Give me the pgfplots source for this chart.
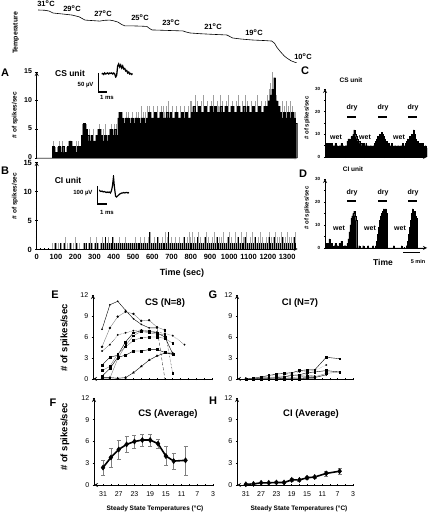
\documentclass[border=0pt]{standalone}
\usepackage{pgfplots}
\pgfplotsset{compat=1.18}
\usepackage{fontspec}
\setmainfont{Liberation Sans}
\newcommand{\fs}[1]{\fontsize{#1}{#1}\selectfont}
\pgfplotsset{
  every axis/.append style={scale only axis, anchor=south west, tick align=outside,
    axis line style={-, line width=0.8pt}, tick style={black, line width=0.6pt},
    major tick length=2.5pt, minor tick length=1.5pt,
    /pgf/number format/assume math mode=true, /pgf/number format/1000 sep={}},
  boldticks/.style={ticklabel style={font=\bfseries\fs{#1}}},
  regticks/.style={ticklabel style={font=\fs{#1}}},
}
\begin{document}
\begin{tikzpicture}
\useasboundingbox (0pt,0pt) rectangle (428pt,514pt);

% ---------------- Temperature trace
\begin{axis}[at={(36.7pt,451pt)}, width=261pt, height=53pt, xmin=0, xmax=1355, ymin=10, ymax=31, axis lines=none]
\addplot[black, line width=0.6pt] coordinates {(7,31.0)(40,30.9)(64,30.6)(85,29.8)(110,29.6)(136,29.4)(160,29.2)(183,29.0)(220,28.3)(251,27.0)(290,26.8)(328,26.6)(350,26.9)(380,27.0)(400,26.7)(422,26.2)(440,25.3)(458,24.7)(500,24.7)(540,24.6)(572,24.5)(585,23.7)(598,23.1)(680,22.9)(759,22.7)(775,22.3)(795,21.9)(850,21.6)(900,21.4)(987,21.1)(1000,20.6)(1018,19.9)(1060,19.5)(1122,19.1)(1180,18.9)(1220,18.7)(1235,17.8)(1246,16.3)(1265,14.5)(1285,12.8)(1298,12.0)(1320,10.9)(1350,10.0)};
\end{axis}

% ---------------- A
\begin{axis}[at={(36.7pt,356pt)}, width=261pt, height=86pt, xmin=0, xmax=1355, ymin=0, ymax=15,
  axis x line=bottom, axis y line=left, x axis line style={gray, line width=0.4pt},
  xtick=\empty, ytick={0,5,10,15}, minor ytick={1,2,3,4,6,7,8,9,11,12,13,14}, boldticks=7,
  yticklabel style={yshift=1pt}]
\addplot[ycomb, gray!75, line width=0.6pt] coordinates {(85,3)(95,2)(105,2)(115,3)(125,2)(135,3)(145,2)(155,2)(165,3)(175,3)(185,3)(195,2)(205,3)(215,3)(225,2)(235,6)(245,6)(255,6)(265,5)(275,5)(285,4)(295,5)(305,4)(315,5)(325,6)(335,5)(345,5)(355,6)(365,4)(375,5)(385,6)(395,5)(405,6)(415,6)(425,8)(435,8)(445,8)(455,7)(465,8)(475,8)(485,7)(495,8)(505,7)(515,8)(525,8)(535,7)(545,9)(555,8)(565,8)(575,9)(585,9)(595,8)(605,9)(615,8)(625,9)(635,8)(645,9)(655,9)(665,8)(675,9)(685,10)(695,8)(705,9)(715,8)(725,9)(735,8)(745,9)(755,8)(765,9)(775,8)(785,9)(795,10)(805,10)(815,9)(825,11)(835,10)(845,9)(855,10)(865,11)(875,9)(885,10)(895,9)(905,10)(915,11)(925,9)(935,10)(945,9)(955,11)(965,10)(975,9)(985,10)(995,11)(1005,9)(1015,10)(1025,9)(1035,10)(1045,11)(1055,9)(1065,10)(1075,9)(1085,11)(1095,10)(1105,9)(1115,10)(1125,9)(1135,10)(1145,11)(1155,9)(1165,10)(1175,9)(1185,10)(1195,11)(1205,12)(1215,13)(1225,15)(1235,13)(1245,11)(1255,10)(1265,9)(1275,10)(1285,9)(1295,10)(1305,9)(1315,10)(1325,9)(1335,8)(1345,8)};
\addplot[const plot, fill=black, draw=black, line width=0.2pt] coordinates {(0,0)(10,0)(20,0)(30,0)(40,0)(50,0)(60,0)(70,0)(80,2)(90,1)(100,1)(110,2)(120,1)(130,2)(140,1)(150,1)(160,2)(170,3)(180,2)(190,2)(200,1)(210,2)(220,2)(230,4)(240,6)(250,5)(260,4)(270,3)(280,4)(290,3)(300,3)(310,4)(320,5)(330,4)(340,3)(350,4)(360,3)(370,4)(380,5)(390,4)(400,5)(410,4)(420,7)(430,8)(440,7)(450,6)(460,7)(470,7)(480,6)(490,7)(500,6)(510,7)(520,7)(530,6)(540,7)(550,7)(560,6)(570,7)(580,8)(590,7)(600,7)(610,8)(620,7)(630,7)(640,8)(650,7)(660,7)(670,8)(680,7)(690,8)(700,7)(710,7)(720,8)(730,7)(740,7)(750,8)(760,7)(770,8)(780,7)(790,7)(800,8)(810,9)(820,8)(830,8)(840,9)(850,8)(860,8)(870,9)(880,8)(890,8)(900,9)(910,8)(920,9)(930,8)(940,8)(950,9)(960,8)(970,8)(980,9)(990,8)(1000,8)(1010,9)(1020,8)(1030,8)(1040,9)(1050,8)(1060,8)(1070,9)(1080,8)(1090,9)(1100,8)(1110,8)(1120,9)(1130,8)(1140,8)(1150,9)(1160,8)(1170,8)(1180,9)(1190,9)(1200,10)(1210,11)(1220,12)(1230,14)(1240,10)(1250,9)(1260,8)(1270,7)(1280,8)(1290,7)(1300,8)(1310,7)(1320,8)(1330,7)(1340,6)(1350,0)} \closedcycle;
\end{axis}

% A inset waveform
\begin{axis}[at={(101.7pt,436pt)}, width=31pt, height=16pt, xmin=0, xmax=31, ymin=0, ymax=16, axis lines=none]
\addplot[black, line width=1.3pt] coordinates {(0,4)(1,4.5)(2,3.5)(3,5)(4,4)(5,4.5)(6,5)(7,4)(8,5)(9,4.5)(10,5)(11,4)(12,5)(13,4)(14,1)(15,3)(16,12)(17,14)(18,11)(19,13)(20,10)(21,12)(22,9)(23,9.5)(24,7)(25,7.5)(26,5)(27,6)(28,4)(29,4.5)(30,3.5)(31,4.5)};
\end{axis}
\draw[line width=1.2pt] (98.5pt,441pt) -- (98.5pt,422pt) -- (107pt,422pt);
\node[anchor=east, font=\bfseries\fs{6}] at (97pt,429pt) {50 µV};
\node[font=\bfseries\fs{6}] at (107pt,417pt) {1 ms};

% ---------------- B
\begin{axis}[at={(36.7pt,265pt)}, width=261pt, height=87pt, xmin=0, xmax=1355, ymin=0, ymax=15,
  axis x line=bottom, axis y line=left,
  xtick={0,100,...,1300}, minor x tick num=4, ytick={0,5,10,15}, minor ytick={1,2,3,4,6,7,8,9,11,12,13,14}, boldticks=7.5,
  yticklabel style={yshift=-1pt}]
\addplot[ycomb, gray!70, line width=0.6pt] coordinates {(80,1)(90,1)(100,1)(110,1)(120,1)(130,1)(140,1)(150,2)(160,1)(170,1)(180,1)(190,1)(200,2)(210,1)(220,1)(230,0)(240,1)(250,1)(260,1)(270,1)(280,2)(290,1)(300,1)(310,2)(320,1)(330,1)(340,2)(350,1)(360,1)(370,2)(380,1)(390,1)(400,2)(410,1)(420,1)(430,2)(440,1)(450,1)(460,2)(470,1)(480,1)(490,1)(500,1)(510,2)(520,1)(530,1)(540,2)(550,1)(560,2)(570,1)(580,2)(590,3)(600,1)(610,2)(620,1)(630,2)(640,1)(650,2)(660,1)(670,3)(680,2)(690,1)(700,2)(710,1)(720,2)(730,1)(740,2)(750,1)(760,2)(770,1)(780,2)(790,3)(800,2)(810,3)(820,2)(830,1)(840,3)(850,2)(860,1)(870,2)(880,3)(890,2)(900,1)(910,2)(920,3)(930,2)(940,1)(950,2)(960,2)(970,3)(980,1)(990,2)(1000,3)(1010,2)(1020,1)(1030,3)(1040,2)(1050,1)(1060,3)(1070,2)(1080,2)(1090,3)(1100,1)(1110,2)(1120,3)(1130,2)(1140,1)(1150,2)(1160,3)(1170,2)(1180,1)(1190,2)(1200,2)(1210,3)(1220,2)(1230,2)(1240,3)(1250,2)(1260,2)(1270,3)(1280,2)(1290,2)(1300,3)(1310,2)(1320,2)(1330,2)(1340,3)};
\addplot[ycomb, black, line width=0.6pt] coordinates {(85,0)(95,1)(105,0)(115,0)(125,1)(135,0)(145,1)(155,0)(165,0)(175,1)(185,0)(195,0)(205,1)(215,0)(225,0)(235,0)(245,1)(255,1)(265,0)(275,1)(285,1)(295,0)(305,1)(315,1)(325,0)(335,1)(345,1)(355,2)(365,1)(375,1)(385,1)(395,2)(405,1)(415,1)(425,1)(435,1)(445,1)(455,1)(465,1)(475,1)(485,1)(495,1)(505,1)(515,1)(525,1)(535,1)(545,1)(555,1)(565,1)(575,1)(585,3)(595,1)(605,1)(615,1)(625,2)(635,1)(645,1)(655,1)(665,1)(675,1)(685,3)(695,1)(705,1)(715,1)(725,1)(735,1)(745,1)(755,1)(765,2)(775,1)(785,1)(795,1)(805,1)(815,1)(825,1)(835,2)(845,1)(855,1)(865,1)(875,2)(885,1)(895,1)(905,1)(915,1)(925,1)(935,2)(945,1)(955,1)(965,1)(975,1)(985,1)(995,2)(1005,1)(1015,1)(1025,1)(1035,1)(1045,2)(1055,1)(1065,1)(1075,1)(1085,2)(1095,1)(1105,1)(1115,1)(1125,1)(1135,2)(1145,1)(1155,1)(1165,1)(1175,1)(1185,1)(1195,1)(1205,2)(1215,1)(1225,1)(1235,2)(1245,1)(1255,1)(1265,1)(1275,2)(1285,1)(1295,1)(1305,1)(1315,1)(1325,1)(1335,2)(1345,1)};
\end{axis}

% B inset waveform
\begin{axis}[at={(99pt,316pt)}, width=30pt, height=22pt, xmin=0, xmax=29, ymin=0, ymax=22, axis lines=none]
\addplot[black, line width=1.2pt] coordinates {(0,8)(1,7)(2,6.5)(3,7)(4,6)(5,6.5)(6,6)(7,5.5)(8,6)(9,5.5)(10,6)(11,5)(12,7)(13,12)(14,21)(15,10)(16,2)(17,1)(18,2)(19,3)(20,4)(21,4.5)(22,5)(23,5)(24,5.5)(25,5)(26,5.5)(27,5.5)(28,5)(29,5.5)};
\end{axis}
\draw[line width=1.2pt] (97.5pt,328pt) -- (97.5pt,310pt) -- (107pt,310pt);
\node[anchor=east, font=\bfseries\fs{6}] at (96pt,321pt) {100 µV};
\node[font=\bfseries\fs{6}] at (107pt,302pt) {1 ms};

% ---------------- C
\begin{axis}[at={(325pt,357pt)}, width=102pt, height=68pt, xmin=0, xmax=103, ymin=0, ymax=30,
  axis x line=bottom, axis y line=left, ytick={0,10,20,30}, minor ytick={5,15,25},
  xtick={0,20,40,60,80,100}, xticklabels={}, boldticks=4.5]
\addplot[const plot, fill=black, draw=black, line width=0.2pt] coordinates {(0,6)(1,6)(2,5)(3,6)(4,5)(5,6)(6,6)(7,5)(8,5)(9,5)(10,6)(11,5)(12,5)(13,4)(14,5)(15,5)(16,6)(17,5)(18,5)(19,4)(20,5)(21,5)(22,7)(23,8)(24,8)(25,7)(26,9)(27,8)(28,10)(29,12)(30,10)(31,9)(32,8)(33,7)(34,7)(35,6)(36,6)(37,5)(38,6)(39,5)(40,5)(41,6)(42,5)(43,5)(44,4)(45,5)(46,5)(47,4)(48,5)(49,5)(50,6)(51,7)(52,8)(53,9)(54,8)(55,10)(56,10)(57,11)(58,10)(59,9)(60,8)(61,7)(62,7)(63,6)(64,6)(65,5)(66,5)(67,6)(68,5)(69,4)(70,5)(71,5)(72,4)(73,5)(74,5)(75,4)(76,5)(77,5)(78,6)(79,5)(80,5)(81,6)(82,7)(83,8)(84,7)(85,9)(86,8)(87,10)(88,10)(89,12)(90,10)(91,8)(92,7)(93,7)(94,6)(95,6)(96,5)(97,6)(98,6)(99,5)(100,4)(101,5)(102,4)(103,4)} \closedcycle;
\end{axis}

% ---------------- D
\begin{axis}[at={(325pt,266pt)}, width=102pt, height=69pt, xmin=0, xmax=103, ymin=0, ymax=30,
  axis x line=bottom, axis y line=left, ytick={0,10,20,30}, minor ytick={5,15,25},
  xtick={0,20,40,60,80,100}, xticklabels={}, boldticks=4.5]
\addplot[const plot, fill=black, draw=black, line width=0.2pt] coordinates {(0,1)(1,2)(2,1)(3,2)(4,4)(5,1)(6,2)(7,1)(8,0)(9,1)(10,2)(11,1)(12,1)(13,0)(14,2)(15,1)(16,3)(17,1)(18,0)(19,1)(20,1)(21,0)(22,2)(23,4)(24,7)(25,10)(26,13)(27,14)(28,15)(29,16)(30,14)(31,12)(32,0)(33,0)(34,1)(35,0)(36,0)(37,0)(38,1)(39,0)(40,0)(41,0)(42,0)(43,1)(44,0)(45,0)(46,0)(47,0)(48,1)(49,0)(50,0)(51,1)(52,3)(53,6)(54,9)(55,12)(56,14)(57,15)(58,16)(59,17)(60,16)(61,17)(62,15)(63,0)(64,0)(65,0)(66,0)(67,0)(68,0)(69,1)(70,0)(71,0)(72,0)(73,0)(74,0)(75,0)(76,0)(77,1)(78,0)(79,0)(80,0)(81,0)(82,1)(83,3)(84,6)(85,9)(86,12)(87,15)(88,17)(89,15)(90,16)(91,14)(92,13)(93,0)(94,0)(103,0)} \closedcycle;
\end{axis}

% ---------------- E
\begin{axis}[at={(93pt,135pt)}, width=119pt, height=84pt, xmin=3, xmax=33.3, x dir=reverse, ymin=0, ymax=12,
  axis x line=bottom, axis y line=left, ytick={0,3,6,9,12}, xtick={3,5,...,31}, xticklabels={}, regticks=7,
  every axis plot/.append style={line width=0.4pt, mark options={solid}}]
\addplot[black, mark=*, mark size=0.6pt] coordinates {(31,7.1)(29,10.6)(27,11.1)(25,9.8)(23,8.6)(21,7.8)(19,7.3)(17,7.3)};
\addplot[black, densely dashed, line width=0.3pt] coordinates {(17,7.3)(15,0)};
\addplot[gray, mark=*, mark size=1pt, mark options={black}] coordinates {(31,4.6)(29,7.3)(27,8.9)(25,9.6)(23,9.3)(21,8.3)(19,8.4)(17,7.4)(15,7.0)};
\addplot[black, densely dotted, mark=square*, mark size=0.8pt] coordinates {(15,7.0)(13,0.8)};
\addplot[black, densely dotted, mark=*, mark size=0.7pt] coordinates {(31,4.0)(29,4.9)(27,6.3)(25,6.6)(23,6.9)(21,7.0)(19,6.9)(17,6.7)(15,6.5)(13,6.2)(10,4.9)};
\addplot[black, mark=square*, mark size=0.9pt] coordinates {(31,2.0)(29,3.1)(27,3.4)(25,5.3)(23,6.6)(21,6.9)(19,6.8)(17,6.6)(15,6.0)(13,3.6)};
\addplot[gray, mark=square*, mark size=0.9pt, mark options={black}] coordinates {(31,1.2)(29,1.8)(27,3.6)(25,4.6)(23,5.5)(21,5.9)(19,6.0)(17,6.0)(15,5.8)(13,5.1)};
\addplot[black, mark=square*, mark size=1pt] coordinates {(31,0.4)(29,1.5)(27,3.1)(25,3.4)(23,4.0)(21,4.0)(19,4.2)(17,4.2)(15,3.8)(13,3.5)};
\addplot[black, mark=triangle*, mark size=1.1pt] coordinates {(31,0.2)(29,0.2)(27,0.1)(25,0.2)(23,0.9)(21,1.8)(19,2.7)(17,3.3)(15,3.7)(13,3.7)};
\addplot[gray, mark=square*, mark size=0.8pt, mark options={black}] coordinates {(31,0.1)(29,0.1)(27,2.9)(25,4.8)(23,6.2)(21,6.8)(19,6.6)(17,6.4)(15,6.3)};
\end{axis}

% ---------------- F
\begin{axis}[at={(94pt,29pt)}, width=119pt, height=87pt, xmin=3, xmax=33.3, x dir=reverse, ymin=0, ymax=12,
  axis x line=bottom, axis y line=left, ytick={0,3,6,9,12}, xtick={3,7,...,31}, minor xtick={5,9,...,29},
  regticks=7, xticklabel style={yshift=-2pt}]
\addplot[black, line width=1.6pt, mark=diamond*, mark size=2.6pt, mark options={solid, line width=0.4pt},
  error bars/.cd, y dir=both, y explicit, error bar style={gray, line width=0.5pt},
  error mark options={gray, rotate=90, mark size=2pt, line width=0.5pt}]
  coordinates {(31,2.4) +- (0,1.0) (29,3.8) +- (0,1.3) (27,4.9) +- (0,1.3) (25,5.6) +- (0,1.1) (23,6.0) +- (0,0.9) (21,6.2) +- (0,0.8) (19,6.2) +- (0,0.8) (17,5.7) +- (0,0.6) (15,4.0) +- (0,1.3) (13,3.3) +- (0,1.1) (10,3.4) +- (0,2.0)};
\end{axis}

% ---------------- G
\begin{axis}[at={(237pt,135pt)}, width=116pt, height=84pt, xmin=3, xmax=33.3, x dir=reverse, ymin=0, ymax=12,
  axis x line=bottom, axis y line=left, ytick={0,3,6,9,12}, xtick={3,5,...,31}, xticklabels={}, regticks=7,
  every axis plot/.append style={line width=0.4pt, mark options={solid}}]
\addplot[black, mark=square*, mark size=0.9pt] coordinates {(31,0.0)(29,0.1)(27,0.3)(25,0.5)(23,0.7)(21,0.8)(19,0.9)(17,1.2)(15,1.3)(13,1.3)(10,3.1)(6.5,2.9)};
\addplot[gray, densely dotted, mark=*, mark size=0.8pt, mark options={black}] coordinates {(31,0.1)(29,0.1)(27,0.3)(25,0.4)(23,0.5)(21,0.6)(19,0.8)(17,1.0)(15,1.1)(13,1.2)(10,2.0)};
\addplot[black, mark=square*, mark size=0.9pt] coordinates {(31,0.0)(29,0.0)(27,0.1)(25,0.1)(23,0.2)(21,0.3)(19,0.5)(17,0.6)(15,0.9)(13,1.0)(10,1.2)(6.5,1.0)};
\addplot[gray, mark=square*, mark size=0.9pt, mark options={black}] coordinates {(31,0.0)(29,0.0)(27,0.0)(25,0.1)(23,0.1)(21,0.1)(19,0.2)(17,0.3)(15,0.4)(13,0.3)(10,0.8)(6.5,1.0)};
\addplot[black, mark=*, mark size=0.8pt] coordinates {(31,0.0)(29,0.0)(27,0.0)(25,0.0)(23,0.0)(21,0.1)(19,0.1)(17,0.1)(15,0.2)(13,0.2)(10,0.6)};
\addplot[black, mark=square*, mark size=0.9pt] coordinates {(31,0.0)(29,0.0)(27,0.0)(25,0.0)(23,0.0)(21,0.0)(19,0.0)(17,0.0)(15,0.1)(13,0.1)};
\addplot[gray, mark=*, mark size=0.8pt, mark options={black}] coordinates {(31,0.1)(29,0.1)(27,0.2)(25,0.2)(23,0.3)(21,0.3)(19,0.6)(17,0.5)(15,0.6)(13,0.4)};
\end{axis}

% ---------------- H
\begin{axis}[at={(237pt,29pt)}, width=116pt, height=87pt, xmin=3, xmax=33.3, x dir=reverse, ymin=0, ymax=12,
  axis x line=bottom, axis y line=left, ytick={0,3,6,9,12}, xtick={3,7,...,31}, minor xtick={5,9,...,29},
  regticks=7, xticklabel style={yshift=-2pt}]
\addplot[black, line width=1.6pt, mark=diamond*, mark size=2.6pt, mark options={solid, line width=0.4pt},
  error bars/.cd, y dir=both, y explicit, error bar style={gray, line width=0.5pt},
  error mark options={gray, rotate=90, mark size=2pt, line width=0.5pt}]
  coordinates {(31,0.1) +- (0,0.05) (29,0.15) +- (0,0.1) (27,0.3) +- (0,0.1) (25,0.3) +- (0,0.1) (23,0.35) +- (0,0.15) (21,0.35) +- (0,0.1) (19,0.7) +- (0,0.2) (17,0.7) +- (0,0.15) (15,1.0) +- (0,0.2) (13,1.1) +- (0,0.15) (10,1.6) +- (0,0.35) (6.5,1.9) +- (0,0.45)};
\end{axis}

% ---------------- Text
\node[rotate=90, font=\bfseries\fs{7}] at (16pt,481pt) {Temperature};
\begin{scope}[font=\bfseries\fs{7.5}]
\node at (46pt,510.5pt) {31\textsuperscript{o}C};
\node at (72pt,505pt) {29\textsuperscript{o}C};
\node at (103pt,500pt) {27\textsuperscript{o}C};
\node at (140pt,496pt) {25\textsuperscript{o}C};
\node at (171pt,491pt) {23\textsuperscript{o}C};
\node at (213pt,487pt) {21\textsuperscript{o}C};
\node at (254pt,481pt) {19\textsuperscript{o}C};
\node at (303pt,457pt) {10\textsuperscript{o}C};
\end{scope}
\begin{scope}[font=\bfseries\fs{11}]
\node at (5pt,441pt) {A};
\node at (5pt,343pt) {B};
\node at (305pt,443pt) {C};
\node at (303pt,340pt) {D};
\node at (55pt,219pt) {E};
\node at (53pt,111pt) {F};
\node at (213pt,219pt) {G};
\node at (213pt,113pt) {H};
\end{scope}
\node[rotate=90, font=\bfseries\fs{6.5}] at (15pt,399pt) {\# of spikes/sec};
\node[rotate=90, font=\bfseries\fs{6.5}] at (15pt,318pt) {\# of spikes/sec};
\node[rotate=90, font=\bfseries\fs{6}] at (307pt,396pt) {\# of spikes/sec};
\node[rotate=90, font=\bfseries\fs{6}] at (307pt,306pt) {\# of spikes/sec};
\node[rotate=90, font=\bfseries\fs{9.5}] at (65pt,176pt) {\# of spikes/sec};
\node[rotate=90, font=\bfseries\fs{9.5}] at (65pt,77pt) {\# of spikes/sec};
\node[font=\bfseries\fs{8.5}] at (70pt,441pt) {CS unit};
\node[font=\bfseries\fs{8.5}] at (68pt,334pt) {CI unit};
\node[font=\bfseries\fs{9}] at (182pt,241pt) {Time (sec)};
\node[font=\bfseries\fs{6.5}] at (351pt,434pt) {CS unit};
\node[font=\bfseries\fs{6.5}] at (353pt,345pt) {CI unit};
\begin{scope}[font=\bfseries\fs{7}]
\node at (352pt,406pt) {dry}; \node at (383pt,406pt) {dry}; \node at (413pt,406pt) {dry};
\node at (336pt,377pt) {wet}; \node at (365pt,377pt) {wet}; \node at (399pt,377pt) {wet};
\node at (352pt,321pt) {dry}; \node at (383pt,321pt) {dry}; \node at (413pt,321pt) {dry};
\node at (339pt,286pt) {wet}; \node at (370pt,286pt) {wet}; \node at (400pt,286pt) {wet};
\end{scope}
\draw[line width=1.5pt] (347pt,397pt) -- (356pt,397pt) (378pt,397pt) -- (387pt,397pt) (408pt,397pt) -- (417pt,397pt);
\draw[line width=1.5pt] (347pt,313pt) -- (356pt,313pt) (378pt,313pt) -- (387pt,313pt) (408pt,313pt) -- (417pt,313pt);
\node[font=\bfseries\fs{8.5}] at (383pt,252pt) {Time};
\node[font=\bfseries\fs{5.5}] at (418pt,252pt) {5 min};
\draw[line width=1pt] (403pt,261pt) -- (420pt,261pt);
\node[font=\bfseries\fs{9.5}] at (165pt,211pt) {CS (N=8)};
\node[font=\bfseries\fs{9.5}] at (300pt,211pt) {CI (N=7)};
\node[font=\bfseries\fs{9.5}] at (168pt,100pt) {CS (Average)};
\node[font=\bfseries\fs{9.5}] at (311pt,100pt) {CI (Average)};
\node[font=\bfseries\fs{6.5}] at (155pt,5pt) {Steady State Temperatures (°C)};
\node[font=\bfseries\fs{6.5}] at (299pt,5pt) {Steady State Temperatures (°C)};
\end{tikzpicture}
\end{document}
